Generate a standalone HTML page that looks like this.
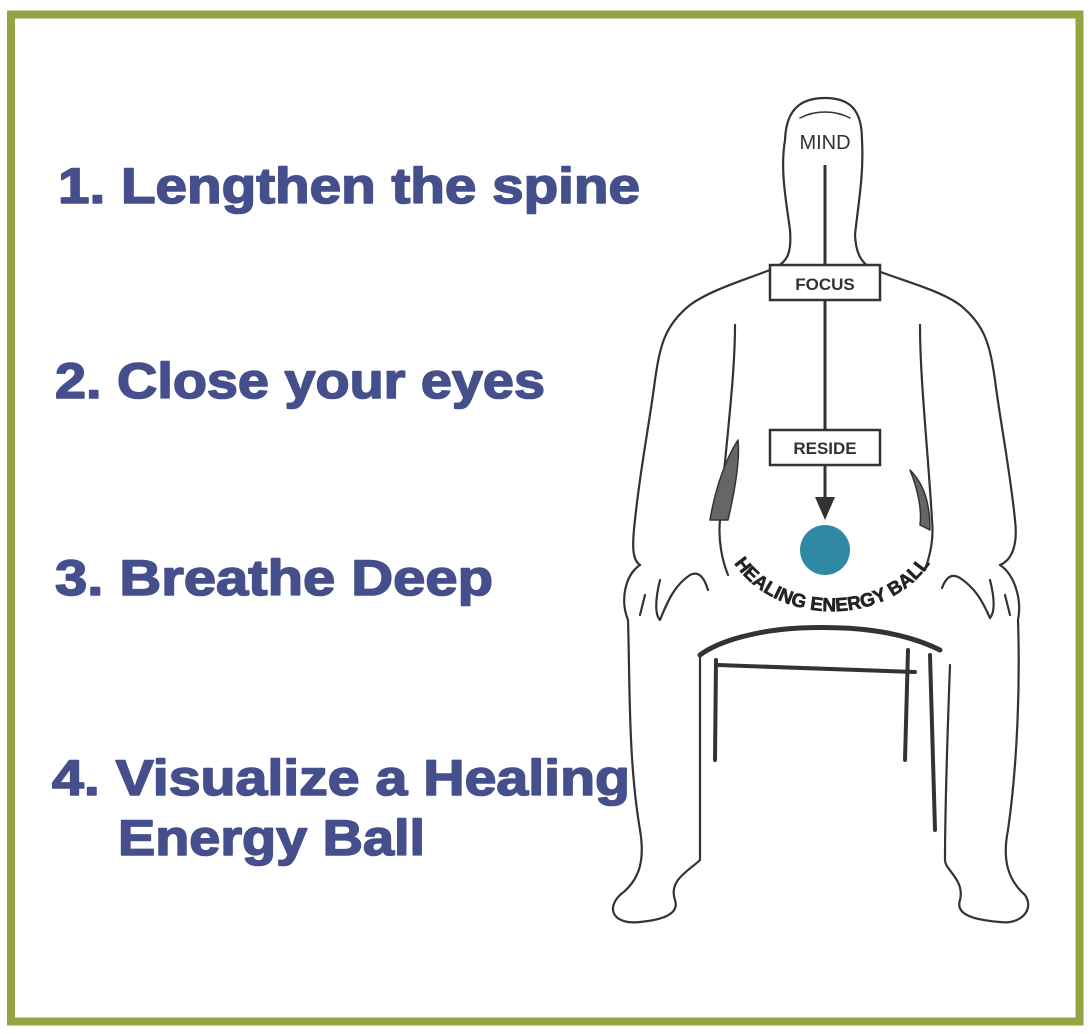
<!DOCTYPE html>
<html><head><meta charset="utf-8"><style>
html,body{margin:0;padding:0;background:#fff;}
svg{display:block;}
.t{font-family:"Liberation Sans",sans-serif;font-weight:bold;fill:#454f8c;stroke:#454f8c;stroke-width:1.6;stroke-linejoin:round;font-size:50px;}
.o{fill:none;stroke:#333;stroke-width:2.2;stroke-linejoin:round;stroke-linecap:round;}
</style></head><body>
<svg width="1090" height="1034" viewBox="0 0 1090 1034" xmlns="http://www.w3.org/2000/svg">
<rect x="11" y="14.5" width="1068.5" height="1007" fill="#fff" stroke="#93a443" stroke-width="8"/>
<text class="t" x="58" y="203" textLength="582" lengthAdjust="spacingAndGlyphs">1. Lengthen the spine</text>
<text class="t" x="55" y="398" textLength="490" lengthAdjust="spacingAndGlyphs">2. Close your eyes</text>
<text class="t" x="55" y="595" textLength="438" lengthAdjust="spacingAndGlyphs">3. Breathe Deep</text>
<text class="t" x="52" y="795" textLength="578" lengthAdjust="spacingAndGlyphs">4. Visualize a Healing</text>
<text class="t" x="118" y="855" textLength="307" lengthAdjust="spacingAndGlyphs">Energy Ball</text>

<g class="o">
<path d="M790,230 C786,200 780,170 785,140 C786,110 800,98 825,98 C850,98 862,110 862,140 C864,175 858,205 855,235 C856,255 862,262 870,268 C900,280 940,290 960,305 C985,325 990,345 995,380 C1000,420 1010,470 1015,520 C1018,545 1012,560 1000,565"/>
<path d="M790,230 C792,255 786,262 775,268 C745,280 710,290 690,305 C665,325 660,345 655,380 C650,420 640,470 635,520 C632,545 632,560 640,565"/>
<path d="M735,325 C735,380 725,450 720,520 C718,540 722,560 728,575"/>
<path d="M920,325 C920,380 928,450 932,520 C934,540 930,555 925,570"/>
<path d="M640,565 C625,575 620,600 628,620 M645,595 L640,615 M660,580 C655,600 655,615 660,620 C668,600 675,585 690,575 C700,570 705,580 708,590"/>
<path d="M1000,565 C1015,575 1022,600 1018,620 M1005,595 L1010,615 M990,580 C995,600 995,612 990,618 C982,600 975,588 960,578 C950,572 945,580 942,588"/>
<path d="M628,620 C630,680 628,760 640,830 C645,860 640,880 620,895 C605,910 615,925 640,922 C660,920 680,915 675,900 C668,880 690,870 700,860 C700,800 700,720 700,655"/>
<path d="M1018,620 C1020,680 1018,760 1008,830 C1002,860 1008,880 1025,895 C1035,910 1020,925 1000,922 C975,920 955,915 960,900 C965,880 945,870 945,860 C945,800 948,720 950,665"/>
<path d="M700,655 C720,640 760,630 800,628 C850,626 900,630 940,650" stroke-width="5"/>
<path d="M718,665 L915,672" stroke-width="4"/>
<path d="M716,660 L715,760 M908,650 L905,760 M930,655 L935,830" stroke-width="4"/>
<path d="M738,440 C725,460 715,490 710,520 L728,520 C735,490 740,460 738,440 Z" fill="#666" stroke-width="1.5"/>
<path d="M910,470 C918,490 922,510 920,525 L930,530 C930,505 925,485 910,470 Z" fill="#666" stroke-width="1.5"/>
<path d="M800,118 C815,110 835,110 850,118" stroke-width="1.5"/>
</g>
<text x="825" y="149" text-anchor="middle" font-family="Liberation Sans,sans-serif" font-size="20" fill="#333">MIND</text>
<line x1="825" y1="165" x2="825" y2="500" stroke="#333" stroke-width="3"/>
<polygon points="815,497 835,497 825,520" fill="#333"/>
<rect x="770" y="265" width="110" height="35" fill="#fff" stroke="#333" stroke-width="2.5"/>
<text x="825" y="290" text-anchor="middle" font-family="Liberation Sans,sans-serif" font-weight="bold" font-size="17" fill="#333">FOCUS</text>
<rect x="770" y="430" width="110" height="35" fill="#fff" stroke="#333" stroke-width="2.5"/>
<text x="825" y="454" text-anchor="middle" font-family="Liberation Sans,sans-serif" font-weight="bold" font-size="17" fill="#333">RESIDE</text>
<circle cx="825" cy="550" r="25" fill="#2f89a5"/>
<defs><path id="arc" d="M720,518 A108,90 0 0 0 944,518"/></defs>
<text font-family="Liberation Sans,sans-serif" font-weight="bold" font-size="19" fill="#222" stroke="#222" stroke-width="0.6"><textPath href="#arc" startOffset="50%" text-anchor="middle">HEALING ENERGY BALL</textPath></text>
</svg>
</body></html>
